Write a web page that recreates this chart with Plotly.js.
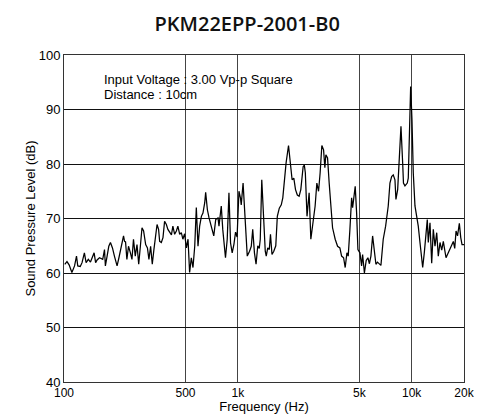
<!DOCTYPE html>
<html>
<head>
<meta charset="utf-8">
<script src="https://cdn.plot.ly/plotly-3.0.1.min.js"></script>
<style>html,body{margin:0;padding:0;background:#fff;}#chart{width:480px;height:414px;}</style>
</head>
<body>
<div id="chart"></div>
<script>
// Frequency (Hz) and sound pressure level (dB)
const freqHz = [101,104,107,111,115,118,120,124,127,131,134,138,142,145,149,152,155,160,164,167,
  171,173,177,181,185,190,195,202,207,214,220,223,226,230,235,241,246,251,257,263,
  269,275,281,287,295,302,308,315,322,329,337,343,350,355,363,371,379,388,396,405,
  415,423,433,443,452,463,473,483,494,506,517,528,540,552,565,577,590,603,617,630,
  645,653,668,683,705,727,746,769,
  779,803,819,849,869,889,908,928,950,970,990,1015,1035,1046,1072,1103,1133,1168,1195,1218,
  1246,1273,1302,1328,1346,1373,1406,1438,1457,1486,1517,1541,1572,1610,1653,1687,1732,1778,1814,1855,
  1895,1957,2009,2052,2099,2147,2199,2252,2303,2375,2413,2445,2500,2571,2630,2690,2784,2848,2913,2975,
  3043,3113,3167,3209,3282,3353,3429,3507,3631,3748,3864,3953,4059,4146,4241,4315,4413,4514,4574,4635,
  4734,4823,4907,5039,5152,5221,5347,5476,5601,5713,5828,5961,6089,6228,6353,6507,6655,6861,7083,7332,
  7499,7670,7834,8013,8119,8306,8484,8678,8876,8970,9150,9434,9559,9687,9867,10040,10214,10447,10686,10914,
  11163,11418,11571,11819,12089,12299,12462,12747,13038,13317,13621,13932,14230,14555,14888,15206,15762,16249,16778,17363,
  17690,17998,18358,18803,19157,19486,20000];
const splDb = [61.6,62.1,61.5,60.1,61.3,63.1,61.3,61.2,61.9,63.7,61.9,62.5,62.0,62.8,63.7,61.9,62.4,62.8,62.6,62.5,
  64.3,61.3,63.1,64.9,65.6,64.6,63.1,61.3,62.8,64.9,66.8,65.8,65.7,62.5,64.9,63.7,62.5,66.2,63.1,65.2,
  61.6,64.9,68.3,67.7,65.2,64.6,62.5,64.9,61.6,64.3,67.4,68.9,68.0,65.8,65.6,66.5,69.5,68.9,68.0,67.4,
  67.0,68.6,67.1,67.7,68.6,67.1,67.4,66.2,67.2,64.6,66.2,60.1,62.8,61.0,64.9,72.0,64.9,68.6,70.4,71.0,
  72.9,74.8,71.6,70.1,68.3,66.8,69.8,70.1,
  68.6,72.3,68.0,62.8,66.2,74.7,65.5,63.7,65.3,67.5,66.6,75.0,73.8,72.5,76.5,68.6,63.1,64.0,64.9,68.0,
  63.7,61.6,65.0,64.5,66.2,77.1,69.5,64.0,63.1,64.6,64.3,67.1,63.4,64.0,65.0,70.4,71.9,72.5,73.8,77.1,
  80.2,83.4,80.0,77.1,77.4,75.3,74.3,74.1,75.3,79.5,79.8,78.4,70.4,74.7,66.2,68.3,72.3,76.5,75.0,78.4,
  83.4,82.6,79.3,81.7,81.1,76.5,71.3,68.3,66.2,64.9,64.6,63.1,62.8,61.0,63.7,63.1,68.0,73.8,72.0,73.2,
  75.9,71.0,64.3,63.7,61.3,63.4,60.0,62.3,62.8,61.7,63.1,66.8,63.7,61.6,62.0,61.6,61.4,66.2,68.6,72.3,
  76.5,77.7,78.0,77.1,73.5,75.3,82.0,86.9,80.2,76.5,76.0,76.5,77.4,83.2,94.2,88.1,78.4,72.3,70.4,68.6,
  65.6,62.5,61.0,63.7,67.4,69.8,65.6,69.2,61.8,68.0,64.9,67.4,63.1,65.6,64.2,65.8,62.8,63.7,64.9,65.8,
  64.5,67.7,66.8,69.1,66.5,65.2,65.2];

const xTickVals = [100, 500, 1000, 5000, 10000, 20000];
const xTickText = ["100", "500", "1k", "5k", "10k", "20k"];
const yTickVals = [40, 50, 60, 70, 80, 90, 100];
const chartTitle = "PKM22EPP-2001-B0";
const noteLines = ["Input Voltage : 3.00 Vp-p Square", "Distance : 10cm"];

const fam = "Liberation Sans, Arial, sans-serif";

const trace = {
  x: freqHz, y: splDb, type: "scatter", mode: "lines",
  line: {color: "#000", width: 1.25}, hoverinfo: "skip"
};

const layout = {
  width: 480, height: 414,
  margin: {l: 64, r: 16, t: 55, b: 32},
  paper_bgcolor: "#fff", plot_bgcolor: "#fff",
  showlegend: false,
  font: {family: fam, size: 13, color: "#000"},
  title: {
    text: chartTitle,
    font: {family: "Open Sans, Noto Sans, sans-serif", size: 20, weight: 600, color: "#111"},
    x: 0.515, xref: "container", xanchor: "center",
    y: 0.941, yref: "container", yanchor: "middle"
  },
  xaxis: {
    type: "log", range: [2, Math.log10(20000)],
    tickvals: xTickVals, ticktext: xTickText,
    showgrid: true, gridcolor: "#444", gridwidth: 1,
    showline: true, linecolor: "#333", linewidth: 1, mirror: true,
    ticks: "", zeroline: false,
    tickfont: {family: fam, size: 12, color: "#000"},
    title: {text: "Frequency (Hz)", font: {family: fam, size: 13, color: "#000"}, standoff: 0}
  },
  yaxis: {
    range: [40, 100], tickvals: yTickVals,
    showgrid: true, gridcolor: "#111", gridwidth: 1,
    showline: true, linecolor: "#333", linewidth: 1, mirror: true,
    ticks: "", zeroline: false,
    tickfont: {family: fam, size: 13, color: "#000"},
    title: {text: "Sound Pressure Level (dB)", font: {family: fam, size: 13, color: "#000"}, standoff: 0}
  },
  annotations: [
    {text: noteLines[0], xref: "paper", yref: "paper", x: 0.0946, y: 0.9266,
     xanchor: "left", yanchor: "middle", showarrow: false,
     font: {family: fam, size: 13, color: "#000"}},
    {text: noteLines[1], xref: "paper", yref: "paper", x: 0.0946, y: 0.8798,
     xanchor: "left", yanchor: "middle", showarrow: false,
     font: {family: fam, size: 13, color: "#000"}}
  ]
};

Plotly.newPlot("chart", [trace], layout, {staticPlot: true, displayModeBar: false});
</script>
</body>
</html>
